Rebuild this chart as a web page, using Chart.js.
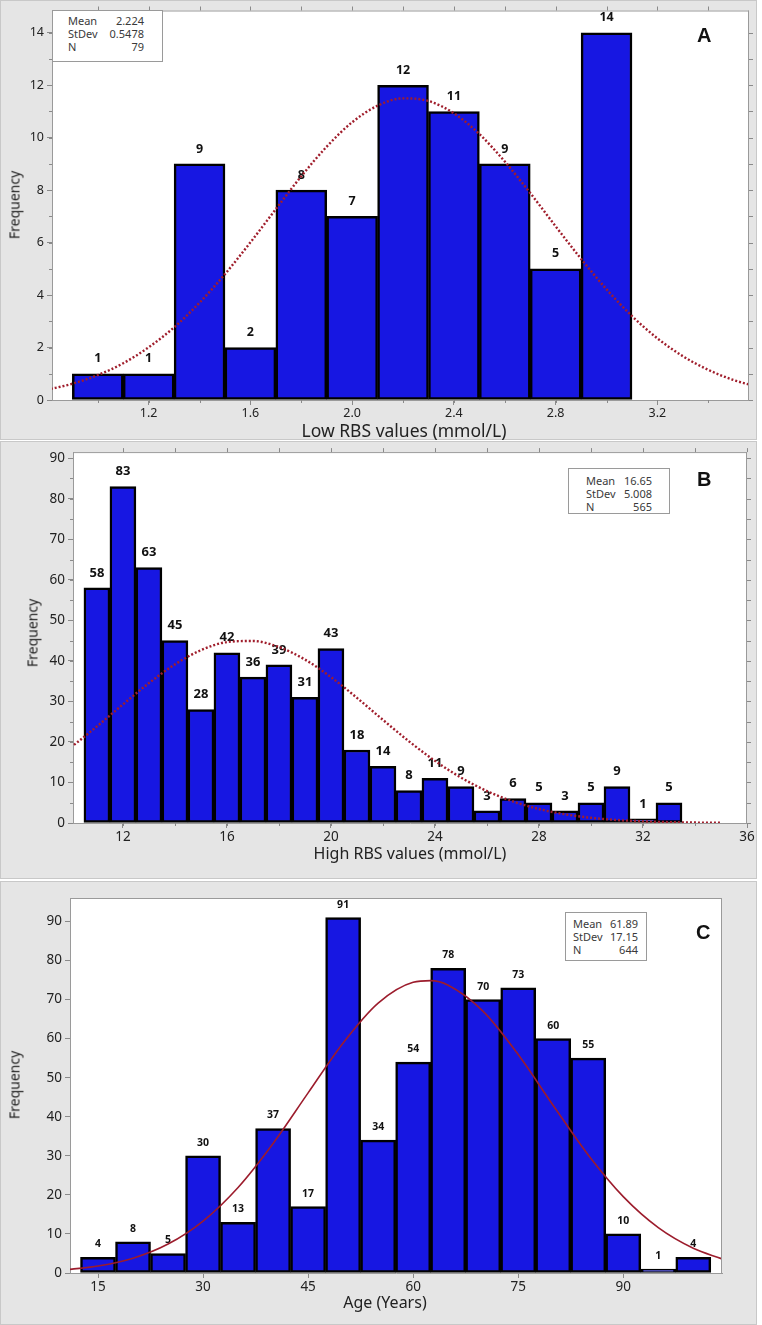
<!DOCTYPE html>
<html>
<head>
<meta charset="utf-8">
<title>RBS and age histograms</title>
<script src="https://cdn.jsdelivr.net/npm/chart.js@4.4.1/dist/chart.umd.min.js"></script>
<style>
  body { margin: 0; width: 762px; height: 1325px; background: #fff; position: relative; overflow: hidden;
         font-family: "Noto Sans", "DejaVu Sans", sans-serif; }
  .panel { position: absolute; left: 0; width: 757px; background: #e5e5e5; box-shadow: inset 0 0 0 1px #c8c8c8; }
  .panel canvas { position: absolute; left: 0; top: 0; }
  .ytitle { position: absolute; transform: translate(-50%, -50%) rotate(-90deg); white-space: nowrap;
            font-size: 14px; color: #222; }
  .xtitle { position: absolute; transform: translate(-50%, -50%); white-space: nowrap; color: #222; }
  .stats { position: absolute; box-sizing: border-box; background: #fff; border: 1px solid #9a9a9a;
           font-size: 11px; color: #3a3a3a; }
  .stats div { display: flex; justify-content: space-between; line-height: 13px; }
  .letter { position: absolute; transform: translateY(-50%); font: bold 20px "Liberation Sans", Arial, sans-serif; color: #111; }
</style>
</head>
<body>

<div class="panel" style="top:0; height:440px;">
  <canvas id="chartA" width="757" height="440"></canvas>
  <div class="ytitle" style="left:14px; top:205px;">Frequency</div>
  <div class="xtitle" style="left:404px; top:430px; font-size:17.5px;">Low RBS values (mmol/L)</div>
  <div class="stats" style="left:52px; top:10px; width:111px; height:52px; padding:3px 18px 0 15px;">
    <div><span>Mean</span><span>2.224</span></div>
    <div><span>StDev</span><span>0.5478</span></div>
    <div><span>N</span><span>79</span></div>
  </div>
  <div class="letter" style="left:697px; top:35px;">A</div>
</div>

<div class="panel" style="top:441px; height:438px;">
  <canvas id="chartB" width="757" height="438"></canvas>
  <div class="ytitle" style="left:32px; top:192px;">Frequency</div>
  <div class="xtitle" style="left:410px; top:412px; font-size:16px;">High RBS values (mmol/L)</div>
  <div class="stats" style="left:568px; top:27px; width:102px; height:46px; padding:5px 17px 0 17px;">
    <div><span>Mean</span><span>16.65</span></div>
    <div><span>StDev</span><span>5.008</span></div>
    <div><span>N</span><span>565</span></div>
  </div>
  <div class="letter" style="left:697px; top:38px;">B</div>
</div>

<div class="panel" style="top:881px; height:444px;">
  <canvas id="chartC" width="757" height="444"></canvas>
  <div class="ytitle" style="left:14px; top:204px;">Frequency</div>
  <div class="xtitle" style="left:385px; top:421px; font-size:16px;">Age (Years)</div>
  <div class="stats" style="left:565px; top:31px; width:82px; height:49px; padding:4px 8px 0 7px;">
    <div><span>Mean</span><span>61.89</span></div>
    <div><span>StDev</span><span>17.15</span></div>
    <div><span>N</span><span>644</span></div>
  </div>
  <div class="letter" style="left:696px; top:51px;">C</div>
</div>

<script>
// --------------------
// Data: panel A (Low RBS)
// --------------------
const binsA = [1.0, 1.2, 1.4, 1.6, 1.8, 2.0, 2.2, 2.4, 2.6, 2.8, 3.0];
const countsA = [1, 1, 9, 2, 8, 7, 12, 11, 9, 5, 14];
const curveXA = [0.8, 0.9, 1.0, 1.1, 1.2, 1.3, 1.4, 1.5, 1.6, 1.7, 1.8, 1.9, 2.0, 2.1, 2.2,
                 2.3, 2.4, 2.5, 2.6, 2.7, 2.8, 2.9, 3.0, 3.1, 3.2, 3.3, 3.4, 3.5, 3.6];
const curveYA = [0.39, 0.62, 0.95, 1.40, 2.01, 2.77, 3.71, 4.80, 6.01, 7.28, 8.53, 9.66, 10.59, 11.22, 11.50,
                 11.40, 10.93, 10.14, 9.09, 7.89, 6.62, 5.38, 4.22, 3.20, 2.35, 1.67, 1.15, 0.76, 0.49];
const xTicksA = [1.2, 1.6, 2.0, 2.4, 2.8, 3.2];
const yTicksA = [0, 2, 4, 6, 8, 10, 12, 14];

// --------------------
// Data: panel B (High RBS)
// --------------------
const binsB = [11, 12, 13, 14, 15, 16, 17, 18, 19, 20, 21, 22, 23, 24, 25, 26, 27, 28, 29, 30, 31, 32, 33];
const countsB = [58, 83, 63, 45, 28, 42, 36, 39, 31, 43, 18, 14, 8, 11, 9, 3, 6, 5, 3, 5, 9, 1, 5];
const curveXB = [10, 11, 12, 13, 14, 15, 16, 17, 18, 19, 20, 21, 22, 23, 24, 25, 26, 27, 28, 29, 30, 31, 32, 33, 34, 35];
const curveYB = [18.64, 23.82, 29.25, 34.51, 39.13, 42.63, 44.63, 44.90, 43.40, 40.32, 35.99, 30.87, 25.44,
                 20.15, 15.33, 11.21, 7.88, 5.32, 3.45, 2.15, 1.29, 0.74, 0.41, 0.22, 0.11, 0.05];
const xTicksB = [12, 16, 20, 24, 28, 32, 36];
const yTicksB = [0, 10, 20, 30, 40, 50, 60, 70, 80, 90];

// --------------------
// Data: panel C (Age)
// --------------------
const binsC = [15, 20, 25, 30, 35, 40, 45, 50, 55, 60, 65, 70, 75, 80, 85, 90, 95, 100];
const countsC = [4, 8, 5, 30, 13, 37, 17, 91, 34, 54, 78, 70, 73, 60, 55, 10, 1, 4];
const curveXC = [11, 15, 20, 25, 30, 35, 40, 45, 50, 55, 60, 62.5, 65, 70, 75, 80, 85, 90, 95, 100, 104];
const curveYC = [0.92, 1.78, 3.79, 7.41, 13.30, 21.91, 33.17, 46.12, 58.90, 69.10, 74.44, 74.85, 73.68,
                 66.98, 55.92, 42.89, 30.21, 19.55, 11.62, 6.34, 3.68];
const xTicksC = [15, 30, 45, 60, 75, 90];
const yTicksC = [0, 10, 20, 30, 40, 50, 60, 70, 80, 90];

// --------------------
// Plugin: white plot area, bar labels, frame and minor ticks
// --------------------
const decor = {
  id: 'decor',
  beforeDraw(chart) {
    const { ctx, chartArea: a } = chart;
    ctx.save();
    ctx.fillStyle = '#fff';
    ctx.fillRect(a.left, a.top, a.width, a.height);
    ctx.restore();
  },
  beforeDatasetsDraw(chart, args, o) {
    const { ctx } = chart;
    const meta = chart.getDatasetMeta(0);
    const vals = chart.data.datasets[0].data;
    ctx.save();
    ctx.font = o.labelFont;
    ctx.fillStyle = '#111';
    ctx.textAlign = 'center';
    ctx.textBaseline = 'middle';
    meta.data.forEach((bar, i) => ctx.fillText(String(vals[i].y), bar.x, bar.y - o.labelGap));
    ctx.restore();
  },
  afterDraw(chart, args, o) {
    const { ctx, chartArea: a, scales: { x, y } } = chart;
    ctx.save();
    ctx.strokeStyle = '#9a9a9a';
    ctx.lineWidth = 1;
    ctx.beginPath();
    ctx.moveTo(a.left, a.top + 0.5); ctx.lineTo(a.right, a.top + 0.5);
    ctx.moveTo(a.right - 0.5, a.top); ctx.lineTo(a.right - 0.5, a.bottom);
    ctx.stroke();

    ctx.strokeStyle = '#8a8a8a';
    ctx.beginPath();
    if (o.xMinor) {
      for (let v = Math.ceil(x.min / o.xMinor) * o.xMinor; v <= x.max + 1e-9; v += o.xMinor) {
        const px = Math.round(x.getPixelForValue(v)) + 0.5;
        ctx.moveTo(px, a.bottom); ctx.lineTo(px, a.bottom + 3);
        if (o.frame) { ctx.moveTo(px, a.top); ctx.lineTo(px, a.top - 4); }
      }
    }
    if (o.yMinor) {
      for (let v = 0; v <= y.max + 1e-9; v += o.yMinor) {
        const py = Math.round(y.getPixelForValue(v)) + 0.5;
        ctx.moveTo(a.left, py); ctx.lineTo(a.left - 3, py);
        if (o.frame) { ctx.moveTo(a.right, py); ctx.lineTo(a.right + 4, py); }
      }
    }
    ctx.stroke();
    ctx.restore();
  }
};

// --------------------
// Build one histogram with its fitted curve
// --------------------
function histChart(id, c) {
  const tickFont = { family: '"Noto Sans", sans-serif', size: c.tickSize };
  return new Chart(document.getElementById(id), {
    type: 'bar',
    data: {
      datasets: [
        {
          type: 'bar',
          data: c.bins.map((b, i) => ({ x: b, y: c.counts[i] })),
          backgroundColor: '#1717e2',
          borderColor: '#000',
          borderWidth: 2.5,
          borderSkipped: false,
          barPercentage: 1,
          categoryPercentage: 1,
          order: 2
        },
        {
          type: 'line',
          data: c.curveX.map((v, i) => ({ x: v, y: c.curveY[i] })),
          borderColor: c.curveColor,
          borderWidth: c.curveWidth,
          borderDash: c.dash,
          pointRadius: 0,
          cubicInterpolationMode: 'monotone',
          fill: false,
          order: 1
        }
      ]
    },
    options: {
      responsive: false,
      animation: false,
      layout: { padding: c.pad },
      plugins: {
        legend: { display: false },
        tooltip: { enabled: false },
        decor: { labelFont: c.labelFont, labelGap: c.labelGap, xMinor: c.xMinor, yMinor: c.yMinor, frame: c.frame }
      },
      scales: {
        x: {
          type: 'linear',
          min: c.xMin,
          max: c.xMax,
          offset: false,
          afterBuildTicks: s => { s.ticks = c.xTicks.map(v => ({ value: v })); },
          afterFit: s => { s.height = c.xH; },
          ticks: { callback: v => c.xFmt(v), font: tickFont, color: '#222', padding: 1, maxRotation: 0, autoSkip: false },
          grid: { offset: false, drawOnChartArea: false, tickLength: 5, color: '#8a8a8a' },
          border: { color: '#9a9a9a' }
        },
        y: {
          min: 0,
          max: c.yMax,
          afterBuildTicks: s => { s.ticks = c.yTicks.map(v => ({ value: v })); },
          afterFit: s => { s.width = c.yW; },
          ticks: { font: tickFont, color: '#222', padding: 3 },
          grid: { drawOnChartArea: false, tickLength: 5, color: '#8a8a8a' },
          border: { color: '#9a9a9a' }
        }
      }
    },
    plugins: [decor]
  });
}

// --------------------
// Draw the three panels
// --------------------
const dotted = '#a01e2c';

histChart('chartA', {
  bins: binsA, counts: countsA, curveX: curveXA, curveY: curveYA, xTicks: xTicksA, yTicks: yTicksA,
  xMin: 0.82, xMax: 3.56, yMax: 14.85, xFmt: v => v.toFixed(1),
  pad: { top: 10, right: 8, left: 0, bottom: 0 }, yW: 52, xH: 40, tickSize: 12.5,
  curveColor: dotted, curveWidth: 2.4, dash: [2, 2],
  labelFont: 'bold 12.5px "Noto Sans", sans-serif', labelGap: 15,
  xMinor: 0.2, yMinor: 1, frame: true
});

histChart('chartB', {
  bins: binsB, counts: countsB, curveX: curveXB, curveY: curveYB, xTicks: xTicksB, yTicks: yTicksB,
  xMin: 10.08, xMax: 36, yMax: 91.5, xFmt: v => String(v),
  pad: { top: 11, right: 10, left: 0, bottom: 0 }, yW: 73, xH: 56, tickSize: 13.5,
  curveColor: dotted, curveWidth: 2.4, dash: [2, 2],
  labelFont: 'bold 13px "Noto Sans", sans-serif', labelGap: 15,
  xMinor: 2, yMinor: 5, frame: true
});

histChart('chartC', {
  bins: binsC, counts: countsC, curveX: curveXC, curveY: curveYC, xTicks: xTicksC, yTicks: yTicksC,
  xMin: 11, xMax: 104.1, yMax: 96, xFmt: v => String(v),
  pad: { top: 17, right: 35, left: 0, bottom: 0 }, yW: 70, xH: 52, tickSize: 13.5,
  curveColor: '#9c1c2c', curveWidth: 1.6, dash: [],
  labelFont: 'bold 10.5px "Noto Sans", sans-serif', labelGap: 13,
  xMinor: 0, yMinor: 0, frame: false
});
</script>
</body>
</html>
